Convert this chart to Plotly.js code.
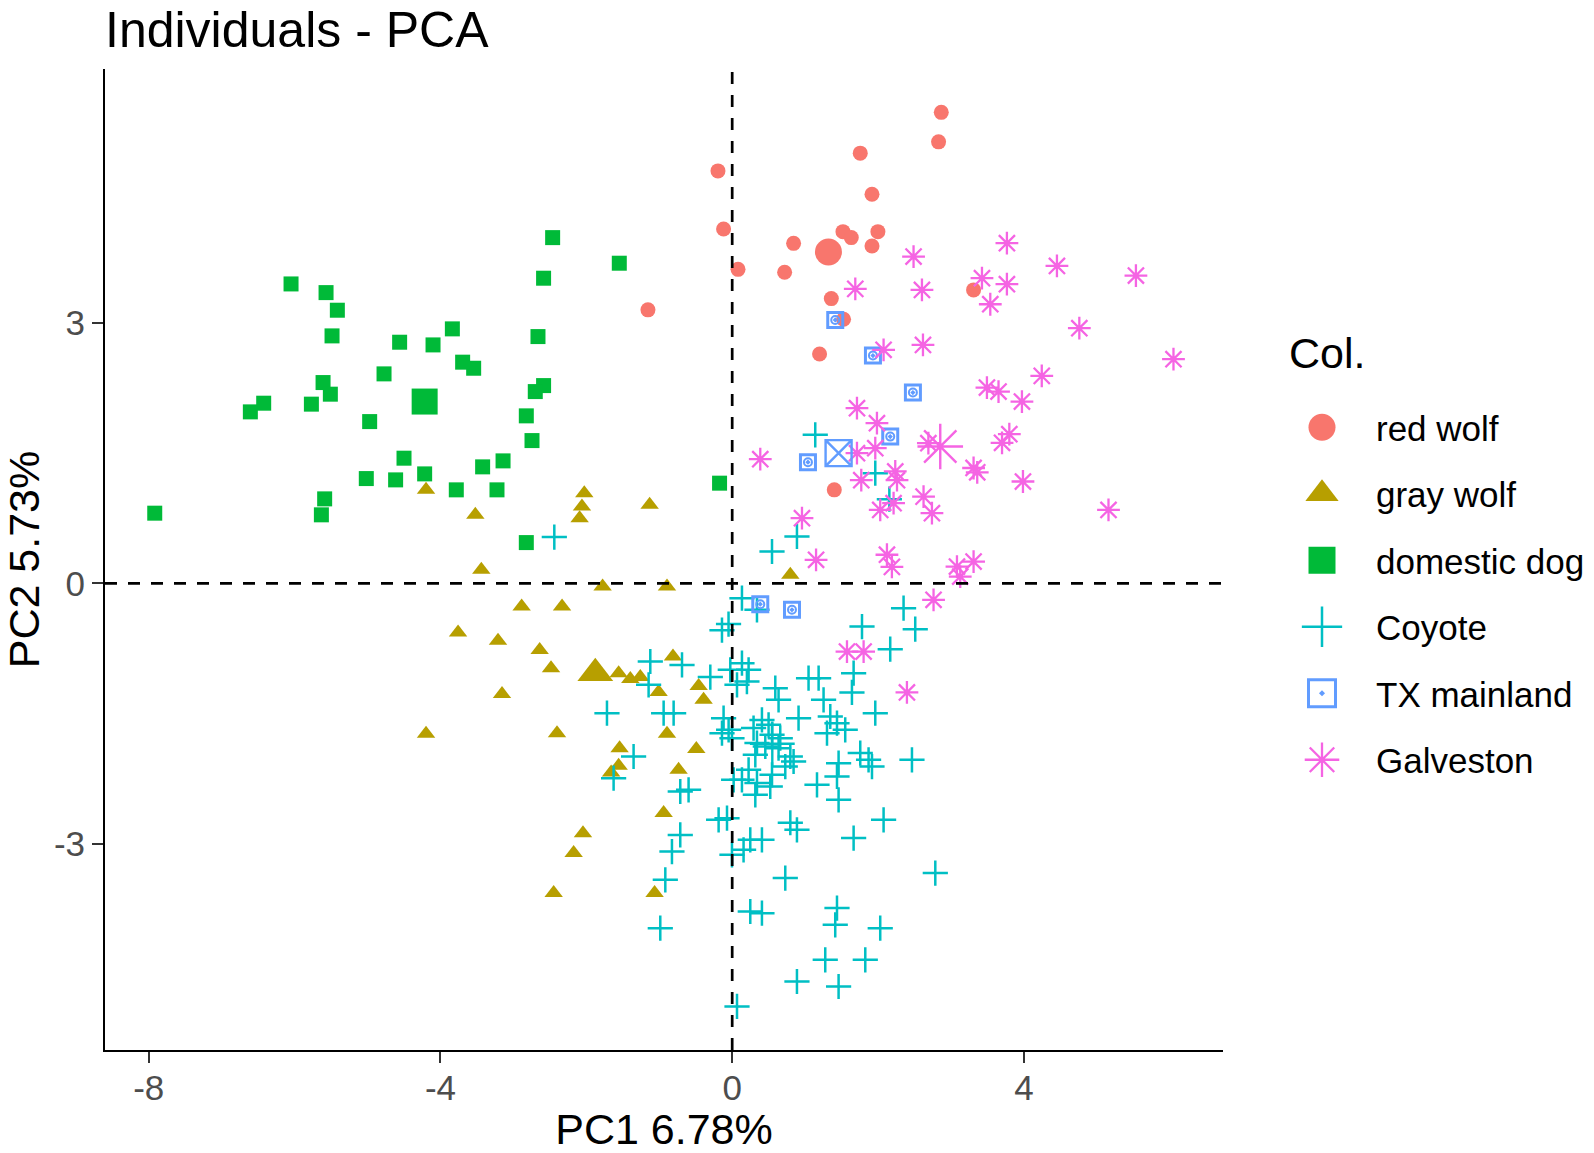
<!DOCTYPE html>
<html>
<head>
<meta charset="utf-8">
<script src="https://cdn.plot.ly/plotly-3.0.1.min.js"></script>
<style>html,body{margin:0;padding:0;background:#fff;}#chart{width:1594px;height:1153px;}</style>
</head>
<body>
<div id="chart"></div>
<script>
// ---- data (PC1, PC2 coordinates of individuals) ----
const groupNames = ["red wolf", "gray wolf", "domestic dog", "Coyote", "TX mainland", "Galveston"];
const legendTitle = "Col.";

const redWolfX = [2.867, 2.83, 1.756, -0.195, 1.917, -0.118, 1.519, 1.633, 1.998, 0.842, 1.917, 0.08, 0.719, -1.155, 1.359, 1.527, 1.198, 3.31, 1.40];
const redWolfY = [5.43, 5.09, 4.96, 4.755, 4.486, 4.086, 4.055, 3.986, 4.055, 3.92, 3.89, 3.62, 3.587, 3.153, 3.283, 3.045, 2.645, 3.383, 1.078];

const grayWolfX = [-4.198, -3.522, -2.028, -2.06, -2.092, -1.132, -3.44, -1.777, -0.894, -2.887, -2.333, -3.759, -3.211, -2.64, -2.484, -1.557, -1.397, -1.26, -0.812, -1.009, -0.46, -0.392, -3.156, -4.198, -2.402, -0.894, -1.544, -0.492, -1.557, -0.735, -1.66, -0.94, -2.046, -2.174, -2.448, -1.064, 0.797];
const grayWolfY = [1.078, 0.79, 1.04, 0.885, 0.75, 0.905, 0.156, -0.037, -0.037, -0.267, -0.267, -0.567, -0.663, -0.767, -0.978, -1.035, -1.104, -1.081, -0.844, -1.254, -1.182, -1.343, -1.277, -1.735, -1.727, -1.735, -1.9, -1.911, -2.104, -2.15, -2.18, -2.649, -2.88, -3.11, -3.571, -3.571, 0.098];

const dogX = [-6.049, -5.569, -5.414, -5.487, -3.837, -4.56, -4.102, -3.696, -3.545, -4.774, -5.61, -5.51, -6.424, -6.607, -5.77, -4.971, -4.50, -5.017, -4.615, -4.217, -3.422, -3.142, -3.783, -3.225, -5.588, -5.633, -7.918, -2.462, -1.548, -2.586, -2.663, -2.586, -2.70, -2.823, -2.745, -2.823, -0.173];
const dogY = [3.452, 3.352, 3.149, 2.853, 2.934, 2.78, 2.749, 2.55, 2.48, 2.415, 2.315, 2.181, 2.077, 1.977, 2.066, 1.865, 1.443, 1.208, 1.193, 1.262, 1.343, 1.412, 1.078, 1.078, 0.974, 0.79, 0.809, 3.986, 3.691, 3.518, 2.845, 2.28, 2.211, 1.931, 1.646, 0.47, 1.155];

const coyoteX = [-2.439, 1.139, 1.962, 2.155, 0.888, 0.546, 0.134, 0.34, -0.14, -0.05, 2.35, 2.51, 1.78, 2.167, 1.665, 1.642, 1.962, 2.465, 1.87, 1.917, 1.459, 1.437, 1.459, 1.163, 2.076, 0.797, 0.888, -0.186, -0.071, -0.3, 0.134, 0.225, 0.202, 0.066, 0.591, 0.636, 1.047, 1.185, 1.253, 0.91, 1.345, 1.437, 1.30, 1.55, -0.118, -0.049, -0.003, -0.14, 0.293, 0.408, 0.499, 0.546, 0.659, 0.34, 0.454, 0.636, 0.797, 0.842, 0.728, 0.317, 0.225, 0.134, 0.34, 0.546, 0.522, 0.317, -0.026, -1.352, -1.626, -0.712, -0.598, -0.712, -0.826, -0.917, -0.986, 0.066, 0.248, 0.156, -0.003, 0.408, 0.728, 0.248, 0.408, 1.437, 1.413, 2.03, 1.276, 1.825, 0.888, 1.459, 1.665, 2.785, 1.756, 0.02, -1.123, -0.688, -1.146, -1.717, -0.94, -0.803];
const coyoteY = [0.533, 1.712, 1.27, 0.97, 0.54, 0.367, -0.171, -0.305, -0.54, -0.47, -0.286, -0.528, -0.498, -0.759, -1.035, -1.258, -1.497, -2.035, -2.035, -2.112, -2.073, -2.227, -2.496, -2.323, -2.726, -2.76, -2.842, -2.726, -2.707, -1.08, -0.92, -0.997, -1.132, -1.17, -1.208, -1.343, -1.093, -1.093, -1.343, -1.554, -1.535, -1.612, -1.727, -1.689, -1.554, -1.689, -1.785, -1.727, -1.669, -1.574, -1.631, -1.746, -1.785, -1.842, -1.881, -1.9, -1.996, -2.054, -2.112, -1.977, -2.15, -2.265, -2.303, -2.207, -2.342, -2.438, -0.997, -1.996, -2.246, -2.4, -2.38, -2.9, -3.092, -3.418, -3.975, -4.878, -2.957, -3.072, -3.13, -2.957, -3.398, -3.783, -3.802, -3.744, -3.937, -3.975, -4.34, -4.34, -4.59, -4.648, -2.937, -3.34, -1.957, -2.265, -0.901, -0.94, -1.17, -1.497, -1.497, -1.497];

const txX = [1.413, 1.93, 2.478, 2.167, 1.039, 0.385, 0.82];
const txY = [3.037, 2.626, 2.2, 1.692, 1.397, -0.24, -0.305];

const galvX = [3.767, 2.487, 4.453, 5.536, 3.425, 3.767, 3.539, 1.688, 2.602, 4.76, 6.051, 2.076, 2.616, 3.493, 3.652, 3.973, 4.245, 1.711, 1.985, 3.8, 3.70, 3.987, 5.16, 1.962, 1.711, 2.69, 3.31, 3.36, 2.236, 2.26, 1.77, 2.03, 2.213, 2.624, 2.739, 2.122, 2.19, 3.082, 3.31, 3.127, 2.761, 0.385, 0.957, 1.15, 1.574, 1.802, 2.396];
const galvY = [3.922, 3.767, 3.66, 3.548, 3.518, 3.449, 3.218, 3.395, 3.383, 2.942, 2.584, 2.692, 2.749, 2.257, 2.211, 2.096, 2.392, 2.02, 1.847, 1.72, 1.62, 1.174, 0.847, 1.558, 1.501, 1.616, 1.33, 1.28, 1.29, 1.19, 1.19, 0.847, 0.924, 1.0, 0.809, 0.33, 0.19, 0.194, 0.251, 0.078, -0.19, 1.432, 0.751, 0.271, -0.786, -0.786, -1.258];

// group mean points (larger markers)
const meanX = [1.32, -1.877, -4.217, 0.55, 1.459, 2.853];
const meanY = [3.82, -1.035, 2.096, -1.85, 1.501, 1.577];

const xTickVals = [-8, -4, 0, 4];
const xTickText = ["-8", "-4", "0", "4"];
const yTickVals = [-3, 0, 3];
const yTickText = ["-3", "0", "3"];

// ---- styles ----
const colors = ["#F8766D", "#B79F00", "#00BA38", "#00BFC4", "#619CFF", "#F564E3"];
const FONT = "'Liberation Sans', Arial, sans-serif";

const traces = [
  {name: groupNames[0], x: redWolfX, y: redWolfY, type: "scatter", mode: "markers", legendgroup: "g0",
   marker: {symbol: "circle", size: 15, color: colors[0], line: {width: 0}}},
  {name: groupNames[1], x: grayWolfX, y: grayWolfY, type: "scatter", mode: "markers", legendgroup: "g1",
   marker: {symbol: "triangle-up", size: 16, color: colors[1], line: {width: 0}}},
  {name: groupNames[2], x: dogX, y: dogY, type: "scatter", mode: "markers", legendgroup: "g2",
   marker: {symbol: "square", size: 15, color: colors[2], line: {width: 0}}},
  {name: groupNames[3], x: coyoteX, y: coyoteY, type: "scatter", mode: "markers", legendgroup: "g3",
   marker: {symbol: "cross-thin-open", size: 18, color: colors[3], line: {width: 2.5, color: colors[3]}}},
  {name: groupNames[4], x: txX, y: txY, type: "scatter", mode: "markers", legendgroup: "g4",
   marker: {symbol: "square-open-dot", size: 15, color: colors[4], line: {width: 3, color: colors[4]}}},
  {name: groupNames[4], x: txX, y: txY, type: "scatter", mode: "markers", legendgroup: "g4", showlegend: false,
   marker: {symbol: "circle-open", size: 8, color: colors[4], line: {width: 2, color: colors[4]}}},
  {name: groupNames[5], x: galvX, y: galvY, type: "scatter", mode: "markers", legendgroup: "g5",
   marker: {symbol: "asterisk-open", size: 19, color: colors[5], line: {width: 2.3, color: colors[5]}}}
];

const meanSymbols = ["circle", "triangle-up", "square", "cross-thin-open", "square-x-open", "asterisk-open"];
const meanSizes = [27, 31, 26, 32, 26, 38];
for (let i = 0; i < 6; i++) {
  const open = meanSymbols[i].indexOf("open") >= 0;
  traces.push({
    name: groupNames[i], x: [meanX[i]], y: [meanY[i]], type: "scatter", mode: "markers",
    legendgroup: "g" + i, showlegend: false,
    marker: {symbol: meanSymbols[i], size: meanSizes[i], color: colors[i],
             line: open ? {width: 2.4, color: colors[i]} : {width: 0}}
  });
}

const W = 1594, H = 1153;
const layout = {
  width: W, height: H,
  paper_bgcolor: "#ffffff", plot_bgcolor: "#ffffff",
  margin: {l: 105, r: 371, t: 69, b: 103, pad: 0},
  font: {family: FONT, color: "#000000"},
  title: {text: "Individuals - PCA", font: {family: FONT, size: 50, color: "#000000"},
          xref: "paper", x: 0, xanchor: "left", yref: "container", y: 1 - 29 / H, yanchor: "middle"},
  xaxis: {
    range: [-8.60, 6.73], showgrid: false, zeroline: false,
    showline: true, linecolor: "#000000", linewidth: 2, mirror: false,
    ticks: "outside", ticklen: 11, tickwidth: 2, tickcolor: "#333333",
    tickmode: "array", tickvals: xTickVals, ticktext: xTickText,
    tickfont: {family: FONT, size: 35, color: "#4D4D4D"}, ticklabelstandoff: -5,
    title: {text: "PC1 6.78%", font: {family: FONT, size: 43, color: "#000000"}, standoff: 15}
  },
  yaxis: {
    range: [-5.38, 5.93], showgrid: false, zeroline: false,
    showline: true, linecolor: "#000000", linewidth: 2, mirror: false,
    ticks: "outside", ticklen: 11, tickwidth: 2, tickcolor: "#333333",
    tickmode: "array", tickvals: yTickVals, ticktext: yTickText,
    tickfont: {family: FONT, size: 35, color: "#4D4D4D"},
    title: {text: "PC2 5.73%", font: {family: FONT, size: 43, color: "#000000"}, standoff: 12}
  },
  shapes: [
    {type: "line", xref: "x", yref: "paper", x0: 0, x1: 0, y0: 0, y1: 1, layer: "above",
     line: {color: "#000000", width: 2.7, dash: "12px,11px"}},
    {type: "line", xref: "paper", yref: "y", x0: 0, x1: 1, y0: 0, y1: 0, layer: "above",
     line: {color: "#000000", width: 2.7, dash: "12px,11px"}}
  ],
  annotations: [
    {text: legendTitle, xref: "paper", yref: "paper", x: (1287 - 105) / (W - 105 - 371), y: 1 - (353 - 69) / (H - 69 - 103),
     xanchor: "left", yanchor: "middle", showarrow: false, font: {family: FONT, size: 43, color: "#000000"}}
  ],
  showlegend: true,
  legend: {
    xref: "container", yref: "container", x: 1268 / W, y: 1 - 398 / H, xanchor: "left", yanchor: "top",
    font: {family: FONT, size: 35, color: "#000000"},
    traceorder: "grouped", tracegroupgap: 18, itemwidth: 98, itemsizing: "trace",
    bgcolor: "rgba(0,0,0,0)", borderwidth: 0
  }
};

Plotly.newPlot("chart", traces, layout, {displayModeBar: false, staticPlot: true}).then(function (gd) {
  // enlarge legend keys like ggplot's legend keys
  gd.querySelectorAll(".legend .legendpoints path.scatterpts").forEach(function (p) {
    const t = p.getAttribute("transform") || "";
    p.setAttribute("transform", t + " scale(1.8)");
    p.style.vectorEffect = "non-scaling-stroke";
  });
});
</script>
</body>
</html>
